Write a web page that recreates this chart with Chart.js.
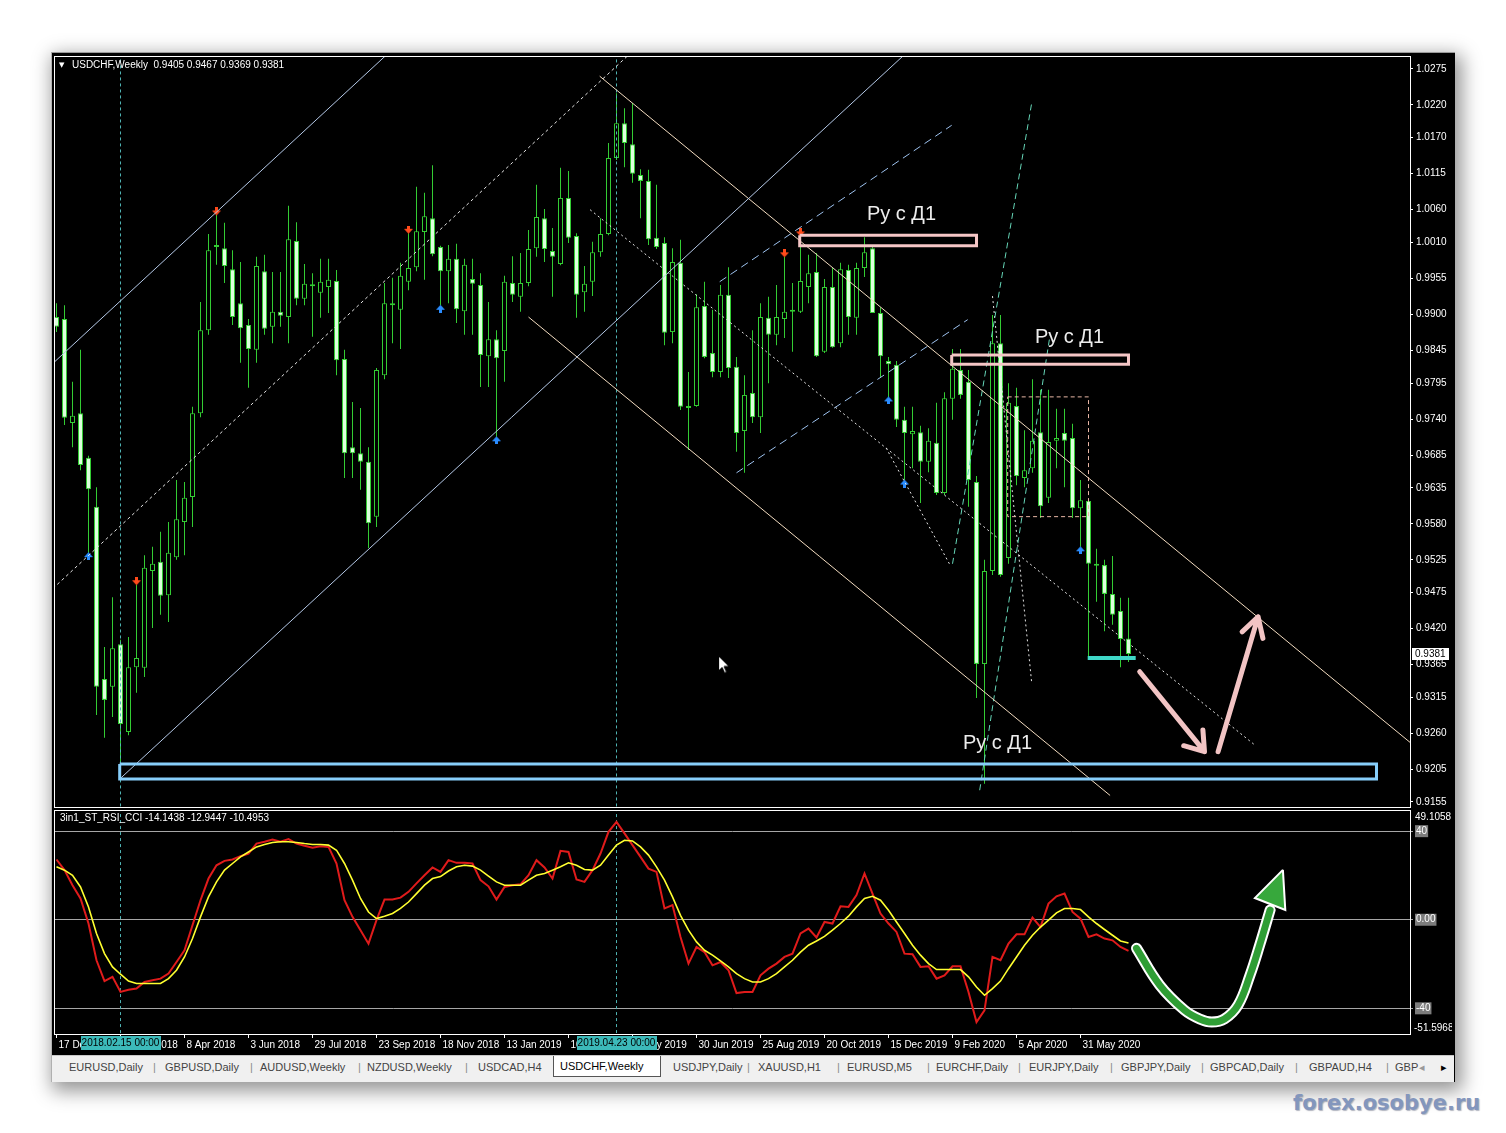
<!DOCTYPE html>
<html><head><meta charset="utf-8">
<script src="https://cdn.jsdelivr.net/npm/chart.js@4.4.1/dist/chart.umd.min.js"></script>
<style>
html,body{margin:0;padding:0;background:#fff;}
body{width:1506px;height:1133px;position:relative;overflow:hidden;font-family:"Liberation Sans",Arial,sans-serif;}
#win{position:absolute;left:51px;top:52px;width:1403px;height:1029px;background:#000;border-top:1px solid #9a9a9a;border-left:1px solid #b0b0b0;box-shadow:4px 6px 18px 3px rgba(0,0,0,0.42);}
#tabs{position:absolute;left:52px;top:1055px;width:1402px;height:26px;background:#f0f0f0;border-top:1px solid #c8c8c8;}
#tabs span{position:absolute;top:5px;font-size:11px;color:#444;white-space:nowrap;}
#tabs span.sep{color:#8a8a8a;}
#tabs .act{position:absolute;top:0px;height:21px;background:#fff;border:1px solid #555;border-top:none;font-size:11px;color:#000;line-height:21px;padding-left:6px;box-sizing:border-box;}
canvas{position:absolute;}
#wm{position:absolute;left:1293px;top:1091px;font:bold 21px "DejaVu Sans",sans-serif;color:#8396bd;text-shadow:1px 1px 1px rgba(40,50,80,0.35);white-space:nowrap;}
</style></head>
<body>
<div id="win"></div>
<canvas id="main" width="1399" height="753" style="left:53px;top:55px"></canvas>
<canvas id="ind" width="1399" height="253" style="left:53px;top:800px"></canvas>
<div id="tabs">
<span style="left:17px">EURUSD,Daily</span>
<span class="sep" style="left:101px">|</span>
<span style="left:113px">GBPUSD,Daily</span>
<span class="sep" style="left:198px">|</span>
<span style="left:208px">AUDUSD,Weekly</span>
<span class="sep" style="left:306px">|</span>
<span style="left:315px">NZDUSD,Weekly</span>
<span class="sep" style="left:413px">|</span>
<span style="left:426px">USDCAD,H4</span>
<div class="act" style="left:501px;width:108px">USDCHF,Weekly</div>
<span style="left:621px">USDJPY,Daily</span>
<span class="sep" style="left:695px">|</span>
<span style="left:706px">XAUUSD,H1</span>
<span class="sep" style="left:785px">|</span>
<span style="left:795px">EURUSD,M5</span>
<span class="sep" style="left:875px">|</span>
<span style="left:884px">EURCHF,Daily</span>
<span class="sep" style="left:966px">|</span>
<span style="left:977px">EURJPY,Daily</span>
<span class="sep" style="left:1058px">|</span>
<span style="left:1069px">GBPJPY,Daily</span>
<span class="sep" style="left:1149px">|</span>
<span style="left:1158px">GBPCAD,Daily</span>
<span class="sep" style="left:1243px">|</span>
<span style="left:1257px">GBPAUD,H4</span>
<span class="sep" style="left:1334px">|</span>
<span style="left:1343px">GBP</span>
<span style="left:1367px;color:#999;font-family:'DejaVu Sans'">&#9666;</span>
<span style="left:1389px;color:#000;font-family:'DejaVu Sans'">&#9656;</span>
</div>
<div id="wm">forex.osobye.ru</div>
<script>
// ---------------- DATA ----------------
const symbolTitle = 'USDCHF,Weekly';
const indicatorName = '3in1_ST_RSI_CCI';
const indicatorValues = [-14.1438, -12.9447, -10.4953];

const open = [0.9896,0.9893,0.9734,0.9749,0.9681,0.9606,0.9343,0.9331,0.9396,0.9262,
0.9361,0.9360,0.9508,0.9522,0.9471,0.9529,0.9583,0.9621,0.9749,0.9876,
1.0003,1.0001,0.9969,0.9917,0.9884,0.9846,0.9966,0.9881,0.9904,0.9896,
1.0012,0.9924,0.9943,0.9933,0.9942,0.9951,0.9832,0.9697,0.9688,0.9675,
0.9591,0.9807,0.9917,0.9907,0.9950,0.9972,1.0026,1.0047,1.0003,0.9966,
0.9985,0.9905,0.9954,0.9945,0.9836,0.9862,0.9844,0.9948,0.9927,0.9948,
1.0001,1.0047,0.9997,0.9977,1.0078,1.0020,0.9934,0.9950,0.9995,1.0023,
1.0139,1.0192,1.0160,1.0113,1.0104,1.0017,1.0009,0.9873,0.9979,0.9760,
0.9760,0.9913,0.9841,0.9812,0.9930,0.9820,0.9722,0.9780,0.9743,0.9895,
0.9869,0.9893,0.9907,0.9904,0.9942,0.9965,0.9843,0.9942,0.9856,0.9968,
0.9895,0.9971,1.0001,0.9902,0.9829,0.9823,0.9739,0.9717,0.9720,0.9675,
0.9704,0.9627,0.9771,0.9815,0.9797,0.9644,0.9366,0.9508,0.9856,0.9528,
0.9760,0.9650,0.9665,0.9720,0.9620,0.9707,0.9719,0.9711,0.9604,0.9615,
0.9516,0.9517,0.9473,0.9447,0.9405];
const high = [0.9917,0.9914,0.9797,0.9846,0.9684,0.9636,0.9392,0.9468,0.9403,0.9407,
0.9487,0.9532,0.9545,0.9568,0.9583,0.9647,0.9644,0.9759,0.9919,1.0023,
1.0052,1.0040,0.9998,0.9980,0.9893,0.9988,0.9991,0.9965,0.9965,1.0066,
1.0041,0.9977,0.9963,0.9985,0.9985,0.9968,0.9846,0.9766,0.9757,0.9697,
0.9818,0.9948,0.9956,0.9979,1.0024,1.0095,1.0086,1.0128,1.0005,1.0006,
1.0008,0.9985,0.9985,0.9963,0.9919,0.9876,0.9959,0.9989,0.9994,1.0029,
1.0098,1.0061,1.0032,1.0124,1.0119,1.0024,0.9974,1.0011,1.0047,1.0162,
1.0238,1.0215,1.0223,1.0122,1.0121,1.0098,1.0018,1.0001,1.0014,0.9812,
0.9931,0.9950,0.9907,0.9945,0.9972,0.9835,0.9807,0.9876,0.9917,0.9927,
0.9945,0.9988,0.9948,1.0020,0.9991,0.9994,0.9954,0.9971,0.9979,0.9976,
0.9979,1.0018,1.0006,0.9911,0.9835,0.9829,0.9759,0.9759,0.9730,0.9726,
0.9765,0.9781,0.9847,0.9847,0.9815,0.9653,0.9525,0.9899,0.9899,0.9795,
0.9788,0.9723,0.9801,0.9785,0.9785,0.9756,0.9756,0.9733,0.9647,0.9618,
0.9542,0.9525,0.9531,0.9467,0.9467];
const low = [0.9873,0.9731,0.9697,0.9662,0.9536,0.9288,0.9253,0.9285,0.9187,0.9257,
0.9322,0.9346,0.9421,0.9441,0.9430,0.9525,0.9532,0.9575,0.9743,0.9869,
0.9976,0.9948,0.9884,0.9826,0.9788,0.9826,0.9869,0.9856,0.9881,0.9856,
0.9914,0.9914,0.9866,0.9895,0.9902,0.9807,0.9650,0.9650,0.9632,0.9543,
0.9575,0.9801,0.9856,0.9847,0.9937,0.9966,0.9953,0.9989,0.9914,0.9917,
0.9887,0.9869,0.9869,0.9789,0.9789,0.9713,0.9797,0.9919,0.9904,0.9943,
0.9988,0.9980,0.9927,0.9975,1.0009,0.9895,0.9904,0.9928,0.9988,1.0021,
1.0136,1.0125,1.0101,1.0047,1.0006,1.0000,0.9853,0.9856,0.9754,0.9693,
0.9759,0.9833,0.9804,0.9804,0.9803,0.9690,0.9658,0.9734,0.9719,0.9795,
0.9853,0.9864,0.9843,0.9902,0.9917,0.9835,0.9841,0.9849,0.9850,0.9869,
0.9869,0.9957,0.9902,0.9804,0.9774,0.9728,0.9647,0.9665,0.9612,0.9659,
0.9624,0.9624,0.9739,0.9771,0.9606,0.9314,0.9183,0.9502,0.9499,0.9519,
0.9639,0.9636,0.9658,0.9589,0.9612,0.9665,0.9636,0.9589,0.9545,0.9375,
0.9461,0.9416,0.9426,0.9361,0.9369];
const close = [0.9881,0.9742,0.9745,0.9670,0.9633,0.9331,0.9311,0.9390,0.9274,0.9361,
0.9375,0.9513,0.9519,0.9470,0.9536,0.9587,0.9620,0.9749,0.9876,0.9998,
1.0005,0.9974,0.9896,0.9879,0.9847,0.9974,0.9878,0.9904,0.9898,1.0015,
0.9924,0.9947,0.9945,0.9950,0.9953,0.9830,0.9688,0.9688,0.9675,0.9581,
0.9815,0.9917,0.9914,0.9959,0.9971,1.0027,1.0050,0.9992,0.9966,0.9985,
0.9908,0.9976,0.9947,0.9838,0.9862,0.9833,0.9950,0.9930,0.9948,1.0000,
1.0049,1.0000,0.9988,1.0078,1.0017,0.9930,0.9947,0.9995,1.0023,1.0139,
1.0192,1.0162,1.0115,1.0104,1.0015,1.0003,0.9872,0.9980,0.9759,0.9757,
0.9911,0.9835,0.9812,0.9930,0.9818,0.9719,0.9777,0.9743,0.9896,0.9869,
0.9896,0.9904,0.9904,0.9951,0.9963,0.9836,0.9942,0.9850,0.9969,0.9896,
0.9971,0.9995,0.9902,0.9836,0.9824,0.9739,0.9719,0.9722,0.9675,0.9707,
0.9627,0.9772,0.9817,0.9777,0.9647,0.9366,0.9508,0.9856,0.9502,0.9765,
0.9653,0.9662,0.9707,0.9607,0.9705,0.9711,0.9707,0.9604,0.9616,0.9519,
0.9519,0.9473,0.9441,0.9404,0.9381];

const fastLine = [27.2,22.4,15.6,9.6,-1.7,-18.3,-27.7,-25.8,-32.6,-31.6,
-31.1,-28.1,-27.3,-26.6,-24.3,-19.1,-13.8,-2.5,8.8,18.6,
24.6,26.6,27.2,28.7,29.9,34.4,35.2,36.2,35.2,36.4,
34.4,33.4,32.5,33.2,32.9,25.4,8.8,1.3,-4.7,-10.8,
-0.2,9.1,9.1,10.0,12.6,16.4,20.1,23.6,21.6,26.9,
25.7,25.7,25.4,17.9,15.1,9.1,14.8,15.6,16.0,20.1,
26.9,23.6,18.6,31.1,30.6,18.2,17.1,22.4,29.9,39.7,
44.2,39.0,33.7,28.4,23.1,21.6,5.1,6.6,-7.8,-19.8,
-12.3,-14.6,-20.6,-19.1,-22.8,-33.1,-32.6,-32.6,-25.1,-22.1,
-19.8,-16.8,-15.3,-6.2,-4.0,-8.0,-1.0,-1.7,6.1,5.8,
11.1,20.9,11.8,2.8,-1.7,-5.5,-15.3,-15.6,-21.3,-21.0,
-26.6,-25.1,-21.0,-21.0,-32.6,-46.2,-40.9,-16.8,-18.3,-10.8,
-6.6,-6.6,1.0,-3.3,7.3,10.6,11.8,3.5,0.5,-7.8,
-6.6,-8.5,-9.3,-12.3,-14.1];
const slowLine = [23.9,22.4,20.1,14.8,5.8,-6.2,-15.3,-21.3,-24.6,-27.7,
-28.8,-28.8,-28.8,-28.8,-26.6,-22.8,-16.8,-8.5,1.3,10.3,
17.1,22.4,25.4,28.4,30.6,32.9,34.0,34.9,35.2,35.2,
34.9,34.4,34.0,34.0,33.7,31.4,25.4,17.9,9.6,3.5,
0.5,1.6,2.8,5.1,8.0,11.8,15.6,18.6,19.5,22.0,
23.9,24.6,24.2,22.4,19.7,17.1,15.6,15.6,15.6,17.9,
20.1,20.9,22.4,23.9,25.7,24.6,22.7,22.4,24.6,29.2,
33.7,35.9,35.6,32.9,29.2,23.9,17.9,10.3,2.0,-4.7,
-10.0,-13.8,-16.0,-18.6,-21.3,-24.3,-26.6,-28.1,-28.1,-26.6,
-24.3,-21.3,-18.3,-14.6,-11.5,-9.6,-7.5,-4.7,-1.7,1.6,
5.8,9.6,10.6,8.8,4.3,-1.0,-6.2,-11.5,-16.0,-19.8,
-22.5,-22.5,-22.5,-22.5,-25.8,-30.4,-34.1,-31.1,-27.7,-22.1,
-16.8,-11.5,-7.0,-3.3,-0.2,3.1,5.1,5.1,4.6,1.3,
-1.7,-4.4,-7.0,-9.6,-10.5];

// time axis: bar index of each label and its text
const timeTickIdx = [0,8,16,24,32,40,48,56,64,72,80,88,96,104,112,120,128];
const timeLabels = ['17 Dec 2017','11 Feb 2018','8 Apr 2018','3 Jun 2018','29 Jul 2018','23 Sep 2018','18 Nov 2018','13 Jan 2019','10 Mar 2019','5 May 2019','30 Jun 2019','25 Aug 2019','20 Oct 2019','15 Dec 2019','9 Feb 2020','5 Apr 2020','31 May 2020'];
const priceTicks = [1.0275,1.0220,1.0170,1.0115,1.0060,1.0010,0.9955,0.9900,0.9845,0.9795,0.9740,0.9685,0.9635,0.9580,0.9525,0.9475,0.9420,0.9365,0.9315,0.9260,0.9205,0.9155];
const indLevels = [40, 0, -40];
const indMax = 49.1058, indMin = -51.5968;

// vertical cursor lines (bar index) and their labels
const cursorIdx = [8, 70];
const cursorText = ['2018.02.15 00:00', '2019.04.23 00:00'];

// fractal arrows (bar indices)
const fractalDownIdx = [10, 20, 44, 91, 93];
const fractalUpIdx = [4, 48, 55, 104, 106, 128];

// drawn objects, [bar index, price]
const chanUpper = [[-1, 0.9819], [45, 1.0339]];
const chanLower = [[7.9, 0.9190], [106, 1.0297]];
const chanMid = [[-1, 0.9475], [72, 1.0302]];
const descUpper = [[67.9, 1.0264], [170, 0.9238]];
const descLower = [[59.0, 0.9896], [131.7, 0.9165]];
const descMid = [[66.7, 1.0060], [149.8, 0.9242]];
const rightUpper = [[82.9, 0.9950], [111.9, 1.0189]];
const rightLower = [[85.0, 0.9658], [113.9, 0.9892]];
const fanLine1 = [[112.0, 0.9519], [121.9, 1.0223]];
const fanLine2 = [[115.4, 0.9173], [124.2, 0.9869]];
const dotLine1 = [[117.0, 0.9928], [121.9, 0.9337]];
const dotLine2 = [[103.7, 0.9696], [111.7, 0.9517]];
const rangeBox = [[118.9, 0.9774], [129.0, 0.9774], [129.0, 0.9591], [118.9, 0.9591], [118.9, 0.9774]];
const zoneBox1 = [[92.9, 1.0021], [115.0, 1.0021], [115.0, 1.0005], [92.9, 1.0005], [92.9, 1.0021]];
const zoneBox2 = [[111.9, 0.9838], [134.0, 0.9838], [134.0, 0.9824], [111.9, 0.9824], [111.9, 0.9838]];
const zoneBox3 = [[7.9, 0.9213], [165.0, 0.9213], [165.0, 0.9190], [7.9, 0.9190], [7.9, 0.9213]];
const levelMark = [[128.9, 0.9375], [134.9, 0.9375]];
const arrowDown = [[135.4, 0.9354], [143.5, 0.9232], [143.3, 0.9265], [143.5, 0.9232], [140.9, 0.9241]];
const arrowUp = [[145.2, 0.9232], [150.2, 0.9438], [148.2, 0.9415], [150.2, 0.9438], [150.8, 0.9405]];
const zoneLabelText = 'Ру с Д1';
const zoneLabelAt = [[101.3, 1.0052], [122.3, 0.9864], [113.3, 0.9245]];
const mousePointerAt = [[82.7, 0.9379]];

// indicator forecast arrow [bar index, value]
const forecastCurve = [[135.0,-12.9],[137.9,-29.5],[141.0,-40.8],[142.9,-44.8],[144.4,-46.2],[146.0,-44.8],[147.7,-38.5],[149.2,-24.9],[150.4,-11.4],[151.7,4.4]];
const forecastHead = [[153.3,22.5],[149.8,9.8],[153.6,4.4],[153.3,22.5]];

// ---------------- RENDER ----------------
Chart.defaults.font.family = "'Liberation Sans', Arial, sans-serif";
Chart.defaults.font.size = 10;
const X_MIN = -0.1875, X_MAX = 169.1875;
const P_MIN = 0.914736, P_MAX = 1.029333;
const bars = open.map((_, i) => i);
const xy = arr => arr.map(([x, y]) => ({x, y}));
function lineDs(points, color, width, dash, order, extra) {
  return Object.assign({type: 'line', data: xy(points), borderColor: color, borderWidth: width,
    borderDash: dash || [], pointRadius: 0, fill: false, tension: 0, order: order, clip: 0}, extra || {});
}
function arrowImg(dir, color) {
  const c = document.createElement('canvas'); c.width = 9; c.height = 15;
  const g = c.getContext('2d'); g.fillStyle = color;
  if (dir === 'down') {
    g.fillRect(3, 0, 3, 4); g.beginPath(); g.moveTo(0, 3); g.lineTo(9, 3); g.lineTo(4.5, 8); g.closePath(); g.fill();
  } else {
    g.fillRect(3, 11, 3, 4); g.beginPath(); g.moveTo(0, 12); g.lineTo(9, 12); g.lineTo(4.5, 7); g.closePath(); g.fill();
  }
  return c;
}
function pointerImg() {
  // tip of the pointer sits at the image centre
  const c = document.createElement('canvas'); c.width = 26; c.height = 40;
  const g = c.getContext('2d'); g.translate(13.5, 20.5);
  g.beginPath(); g.moveTo(0, 0); g.lineTo(0, 15); g.lineTo(3.5, 11.5); g.lineTo(6, 17); g.lineTo(8, 16);
  g.lineTo(5.5, 10.5); g.lineTo(10.5, 10.5); g.closePath();
  g.fillStyle = '#ffffff'; g.fill(); g.strokeStyle = '#000000'; g.lineWidth = 1; g.stroke();
  return c;
}
const noPad = s => { s.paddingTop = 0; s.paddingBottom = 0; s.paddingLeft = 0; s.paddingRight = 0; };
const candleGreen = '#33cc33';
const bearFill = '#dcffdc';
const vDash = '#4fb3b3';

const mainDeco = {
  id: 'mainDeco',
  afterDatasetsDraw(chart) {
    const {ctx, scales: {x, y}} = chart;
    ctx.save();
    ctx.fillStyle = '#ececec';
    ctx.font = "20px 'Liberation Sans', Arial, sans-serif";
    ctx.textBaseline = 'middle';
    zoneLabelAt.forEach(([i, p]) => ctx.fillText(zoneLabelText, x.getPixelForValue(i), y.getPixelForValue(p)));
    ctx.restore();
  },
  afterDraw(chart) {
    const {ctx, chartArea: a, scales: {y}} = chart;
    ctx.save();
    ctx.strokeStyle = '#ffffff'; ctx.lineWidth = 1;
    ctx.strokeRect(a.left - 0.5, a.top - 0.5, a.right - a.left + 1, a.bottom - a.top + 1);
    ctx.fillStyle = '#ffffff'; ctx.textBaseline = 'middle';
    ctx.font = "7px 'DejaVu Sans'"; ctx.fillText('\u25BC', a.left + 4, a.top + 8);
    const n = close.length - 1;
    ctx.font = "10px 'Liberation Sans', Arial, sans-serif";
    ctx.fillText(symbolTitle + '  ' + [open[n], high[n], low[n], close[n]].map(v => v.toFixed(4)).join(' '), a.left + 17, a.top + 8);
    const py = y.getPixelForValue(close[n]);
    ctx.fillStyle = '#ffffff'; ctx.fillRect(a.right + 2, Math.round(py) - 6, 37, 12);
    ctx.fillStyle = '#000000'; ctx.fillText(close[n].toFixed(4), a.right + 5, py);
    ctx.restore();
  }
};

new Chart(document.getElementById('main'), {
  type: 'bar',
  data: {datasets: [
    {type: 'line', showLine: false, order: 0, pointRadius: 5, pointStyle: pointerImg(), data: xy(mousePointerAt)},
    lineDs(zoneBox3, '#87cefa', 3, [], 1),
    lineDs(zoneBox1, '#f5c6c6', 3, [], 1),
    lineDs(zoneBox2, '#f5c6c6', 3, [], 1),
    lineDs(levelMark, '#3fd8c8', 4, [], 1),
    lineDs(arrowDown, '#f2c4c4', 5, [], 1, {borderCapStyle: 'round', borderJoinStyle: 'round'}),
    lineDs(arrowUp, '#f2c4c4', 5, [], 1, {borderCapStyle: 'round', borderJoinStyle: 'round'}),
    lineDs(rangeBox, '#e9b7a6', 1, [4, 3], 2),
    lineDs(chanUpper, '#b4c8e6', 1, [], 2),
    lineDs(chanLower, '#b4c8e6', 1, [], 2),
    lineDs(chanMid, '#e6e6e6', 1, [3, 3], 2),
    lineDs(descUpper, '#f3dcc0', 1, [], 2),
    lineDs(descLower, '#f3dcc0', 1, [], 2),
    lineDs(descMid, '#e6e6e6', 1, [2, 3], 2),
    lineDs(rightUpper, '#9ec3f0', 1, [8, 5], 2),
    lineDs(rightLower, '#9ec3f0', 1, [8, 5], 2),
    lineDs(fanLine1, '#66d6b8', 1, [6, 4], 2),
    lineDs(fanLine2, '#66d6b8', 1, [6, 4], 2),
    lineDs(dotLine1, '#e6e6e6', 1, [2, 3], 2),
    lineDs(dotLine2, '#e6e6e6', 1, [2, 3], 2),
    ...cursorIdx.map(i => lineDs([[i, P_MIN - 0.01], [i, P_MAX + 0.01]], vDash, 1, [3, 3], 2)),
    {type: 'line', showLine: false, order: 3, pointRadius: 5, pointStyle: arrowImg('down', '#ff4a1a'),
      data: fractalDownIdx.map(i => ({x: i, y: high[i]}))},
    {type: 'line', showLine: false, order: 3, pointRadius: 5, pointStyle: arrowImg('up', '#2a8cff'),
      data: fractalUpIdx.map(i => ({x: i, y: low[i]}))},
    {type: 'bar', order: 4, grouped: false, maxBarThickness: 5, barPercentage: 1, categoryPercentage: 1,
      inflateAmount: 0, minBarLength: 2, borderWidth: 1, borderSkipped: false, borderColor: candleGreen,
      backgroundColor: c => (close[c.dataIndex] < open[c.dataIndex] ? bearFill : '#000000'),
      data: bars.map(i => ({x: i, y: [open[i], close[i]]}))},
    {type: 'bar', order: 5, grouped: false, maxBarThickness: 1, barPercentage: 1, categoryPercentage: 1,
      inflateAmount: 0, borderWidth: 0, backgroundColor: candleGreen,
      data: bars.map(i => ({x: i, y: [low[i], high[i]]}))}
  ]},
  options: {
    responsive: false, animation: false, events: [],
    layout: {padding: {left: 2, top: 2, right: 0, bottom: 1}, autoPadding: false},
    plugins: {legend: {display: false}, tooltip: {enabled: false}},
    scales: {
      x: {type: 'linear', display: false, min: X_MIN, max: X_MAX, offset: false, grid: {offset: false}},
      y: {type: 'linear', position: 'right', min: P_MIN, max: P_MAX,
        afterBuildTicks: s => { s.ticks = priceTicks.map(v => ({value: v})); },
        afterFit: s => { s.width = 42; noPad(s); },
        ticks: {color: '#ffffff', padding: 3, font: {size: 10}, callback: v => Number(v).toFixed(4)},
        grid: {drawOnChartArea: false, drawTicks: true, tickLength: 3, color: '#ffffff'},
        border: {display: false}}
    }
  },
  plugins: [mainDeco]
});

const indDeco = {
  id: 'indDeco',
  afterDraw(chart) {
    const {ctx, chartArea: a, scales: {x}} = chart;
    ctx.save();
    ctx.strokeStyle = '#ffffff'; ctx.lineWidth = 1;
    ctx.strokeRect(a.left - 0.5, a.top - 0.5, a.right - a.left + 1, a.bottom - a.top + 1);
    ctx.fillStyle = '#ffffff'; ctx.textBaseline = 'middle';
    ctx.font = "10px 'Liberation Sans', Arial, sans-serif";
    ctx.fillText(indicatorName + ' ' + indicatorValues.map(v => v.toFixed(4)).join(' '), a.left + 5, a.top + 7);
    ctx.fillText(indMax.toFixed(4), a.right + 5, a.top + 6);
    ctx.fillText(indMin.toFixed(4), a.right + 4, a.bottom - 6);
    cursorIdx.forEach((i, k) => {
      const px = x.getPixelForValue(i);
      ctx.fillStyle = '#3cbaba';
      ctx.fillRect(Math.round(px) - 40, a.bottom + 2, 80, 14);
      ctx.fillStyle = '#000000'; ctx.textAlign = 'center';
      ctx.fillText(cursorText[k], px, a.bottom + 9.5);
      ctx.textAlign = 'left';
    });
    ctx.restore();
  }
};

new Chart(document.getElementById('ind'), {
  type: 'line',
  data: {datasets: [
    lineDs(forecastHead, '#ffffff', 2, [], 1, {fill: 'shape', backgroundColor: '#37a83c'}),
    lineDs(forecastCurve, '#2f9e35', 7, [], 2, {tension: 0.4, borderCapStyle: 'round'}),
    lineDs(forecastCurve, '#ffffff', 11, [], 3, {tension: 0.4, borderCapStyle: 'round'}),
    {data: bars.map(i => ({x: i, y: fastLine[i]})), borderColor: '#e01b1b', borderWidth: 2, pointRadius: 0, tension: 0, order: 5},
    {data: bars.map(i => ({x: i, y: slowLine[i]})), borderColor: '#ffff30', borderWidth: 1.6, pointRadius: 0, tension: 0, order: 4},
    ...cursorIdx.map(i => lineDs([[i, indMin - 5], [i, indMax + 5]], vDash, 1, [3, 3], 6))
  ]},
  options: {
    responsive: false, animation: false, events: [],
    layout: {padding: {left: 2, top: 11, right: 0, bottom: 0}, autoPadding: false},
    plugins: {legend: {display: false}, tooltip: {enabled: false}},
    scales: {
      x: {type: 'linear', position: 'bottom', min: X_MIN, max: X_MAX, offset: false,
        afterBuildTicks: s => { s.ticks = timeTickIdx.map(v => ({value: v})); },
        afterFit: s => { s.height = 19; noPad(s); },
        ticks: {autoSkip: false, maxRotation: 0, minRotation: 0, align: 'start', labelOffset: 2, padding: 1,
          color: '#ffffff', font: {size: 10}, callback: (v, i) => timeLabels[i]},
        grid: {drawOnChartArea: false, drawTicks: true, tickLength: 4, color: '#ffffff'},
        border: {display: false}},
      y: {type: 'linear', position: 'right', min: indMin, max: indMax,
        afterBuildTicks: s => { s.ticks = indLevels.map(v => ({value: v})); },
        afterFit: s => { s.width = 42; noPad(s); },
        ticks: {color: '#ffffff', padding: 3, font: {size: 10},
          callback: v => (v === 0 ? '0.00' : String(v)),
          showLabelBackdrop: true, backdropColor: '#7c7c7c', backdropPadding: {x: 1, y: 0}},
        grid: {color: '#a6a6a6', drawTicks: true, tickLength: 3},
        border: {display: false}}
    }
  },
  plugins: [indDeco]
});
</script>
</body></html>
